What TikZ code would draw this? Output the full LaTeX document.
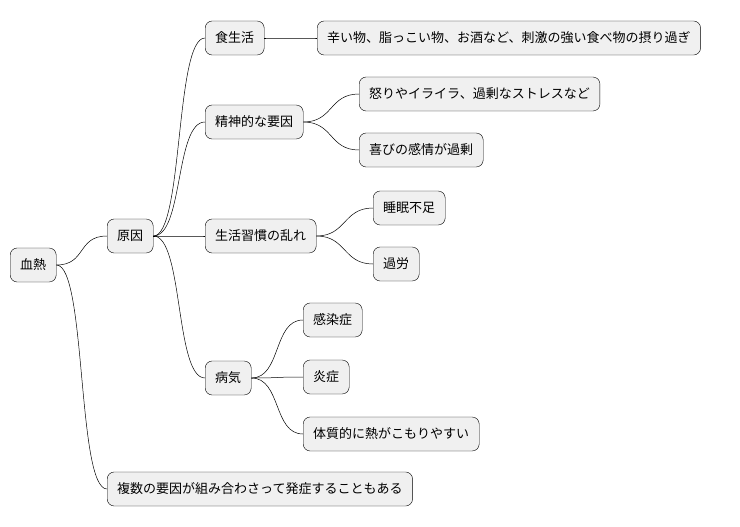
\documentclass[tikz,border=0pt]{standalone}
\usepackage{fontspec}
\setmainfont{Noto Sans CJK JP}
\begin{document}
\begin{tikzpicture}[x=1pt, y=-1pt,
  topic/.style={draw=black, fill=black!6, rounded corners=7pt, minimum height=34pt,
    inner xsep=10pt, anchor=west, font=\fontsize{13pt}{15pt}\selectfont},
  branch/.style={draw=black, line width=0.5pt}]
\useasboundingbox (0,0) rectangle (740,527);
\node[topic] (root) at (10,265) {血熱};
\node[topic] (cause) at (107,236) {原因};
\node[topic] (multi) at (107,489) {複数の要因が組み合わさって発症することもある};
\node[topic] (diet) at (205,38) {食生活};
\node[topic] (dietA) at (317,38) {辛い物、脂っこい物、お酒など、刺激の強い食べ物の摂り過ぎ};
\node[topic] (mind) at (205,122) {精神的な要因};
\node[topic] (mindA) at (359,94) {怒りやイライラ、過剰なストレスなど};
\node[topic] (mindB) at (359,150) {喜びの感情が過剰};
\node[topic] (life) at (205,236) {生活習慣の乱れ};
\node[topic] (lifeA) at (373,208) {睡眠不足};
\node[topic] (lifeB) at (373,264) {過労};
\node[topic] (ill) at (205,378) {病気};
\node[topic] (illA) at (303,320) {感染症};
\node[topic] (illB) at (303,377) {炎症};
\node[topic] (illC) at (303,434) {体質的に熱がこもりやすい};
\foreach \a/\b in {root/cause, root/multi, cause/diet, cause/mind, cause/life, cause/ill,
  diet/dietA, mind/mindA, mind/mindB, life/lifeA, life/lifeB, ill/illA, ill/illB, ill/illC}
  \draw[branch] (\a.east) .. controls +(30,0) and +(-30,0) .. (\b.west);
\end{tikzpicture}
\end{document}
